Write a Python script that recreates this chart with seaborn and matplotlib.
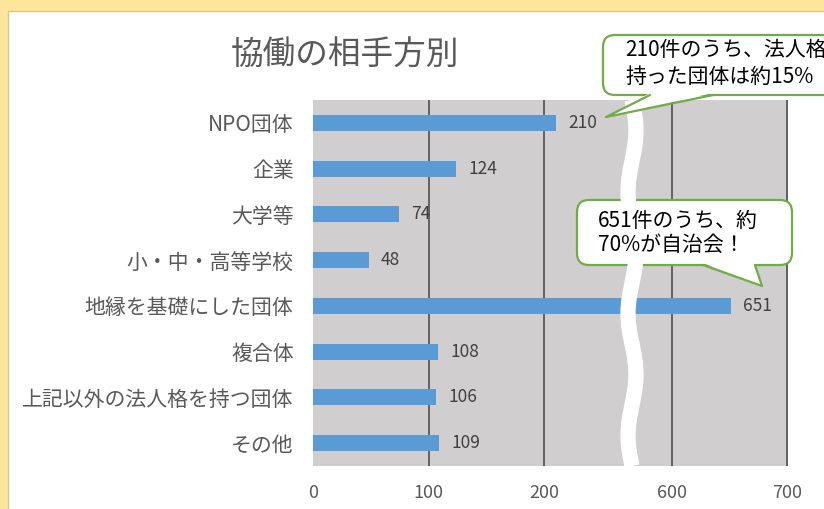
import matplotlib
matplotlib.use('Agg')
import numpy as np
import pandas as pd
import seaborn as sns
import matplotlib.pyplot as plt
from matplotlib.patches import Rectangle, FancyBboxPatch, Polygon

# データ
categories = ['NPO団体', '企業', '大学等', '小・中・高等学校', '地縁を基礎にした団体',
              '複合体', '上記以外の法人格を持つ団体', 'その他']
counts = [210, 124, 74, 48, 651, 108, 106, 109]
left_ticks = [0, 100, 200]
right_ticks = [600, 700]
note1 = ['210件のうち、法人格', '持った団体は約15%']
note2 = ['651件のうち、約', '70%が自治会！']

df = pd.DataFrame({'相手方': categories, '件数': counts})

sns.set_style('white')
plt.rcParams['font.family'] = ['Noto Sans CJK JP', 'DejaVu Sans']

W, H = 824, 509
fig = plt.figure(figsize=(W / 100, H / 100), dpi=100)
fig.patch.set_facecolor('#FDE59A')

# 背景（白いパネル）
bg = fig.add_axes([0, 0, 1, 1], zorder=0)
bg.set_xlim(0, W)
bg.set_ylim(H, 0)
bg.axis('off')
bg.add_patch(Rectangle((8, 11), W, H, facecolor='white', edgecolor='#D8C690', lw=1))


def px(x0, y0, x1, y1):
    return [x0 / W, 1 - y1 / H, (x1 - x0) / W, (y1 - y0) / H]


ax1 = fig.add_axes(px(313, 100, 631, 466), zorder=1)
ax2 = fig.add_axes(px(631, 100, 788, 466), zorder=1)

for ax in (ax1, ax2):
    sns.barplot(data=df, x='件数', y='相手方', orient='h', color='#5B9BD5',
                width=0.35, saturation=1, linewidth=0, ax=ax)
    ax.set_facecolor('#D0CECE')
    for s in ax.spines.values():
        s.set_visible(False)
    ax.set_xlabel('')
    ax.set_ylabel('')
    ax.xaxis.grid(True, color='#595959', lw=1.3)
    ax.set_axisbelow(True)
    ax.tick_params(axis='x', length=0, pad=13, labelsize=13, labelcolor='#595959')

ax1.set_xlim(0, 275)
ax1.set_xticks(left_ticks)
ax1.get_xgridlines()[0].set_visible(False)
ax1.tick_params(axis='y', length=0, pad=14, labelsize=15, labelcolor='#595959')

ax2.set_xlim(564, 701)
ax2.set_xticks(right_ticks)
ax2.set_yticks([])

lab1 = [str(v) if v < 275 else '' for v in counts]
lab2 = [str(v) if v > 564 else '' for v in counts]
ax1.bar_label(ax1.containers[0], labels=lab1, padding=9, fontsize=12.5, color='#404040')
ax2.bar_label(ax2.containers[0], labels=lab2, padding=9, fontsize=12.5, color='#404040')

fig.text(345 / W, 1 - 55 / H, '協働の相手方別', ha='center', va='center',
         fontsize=23.5, color='#595959')

# 波線（軸の省略）と吹き出し
ov = fig.add_axes([0, 0, 1, 1], zorder=3)
ov.set_xlim(0, W)
ov.set_ylim(H, 0)
ov.axis('off')
ov.patch.set_alpha(0)

ys = np.linspace(100, 466, 300)
xs = 632 + 4 * np.sin((ys - 100) / 366 * 2 * np.pi * 3)
ov.plot(xs, ys, color='white', lw=11, solid_capstyle='butt')

green = '#70AD47'


def callout(x0, y0, x1, y1, base, tip, lines, tx, ty):
    ov.add_patch(FancyBboxPatch((x0, y0), x1 - x0, y1 - y0,
                                boxstyle='round,pad=0,rounding_size=12',
                                facecolor='white', edgecolor=green, lw=1.6))
    (bx0, bx1) = base
    ov.add_patch(Polygon([(bx0, y1 - 2), (bx1, y1 - 2), tip], closed=True,
                         facecolor='white', edgecolor='none'))
    ov.plot([bx0, tip[0], bx1], [y1, tip[1], y1], color=green, lw=1.6)
    for i, t in enumerate(lines):
        ov.text(tx, ty[i], t, ha='left', va='center', fontsize=15, color='black')


callout(603, 35, 850, 95, (650, 713), (606, 117), note1, 625, [50, 77])
callout(577, 200, 792, 265, (703, 755), (762, 286), note2, 598, [221, 245])

fig.savefig('out.png', dpi=100, facecolor=fig.get_facecolor())
